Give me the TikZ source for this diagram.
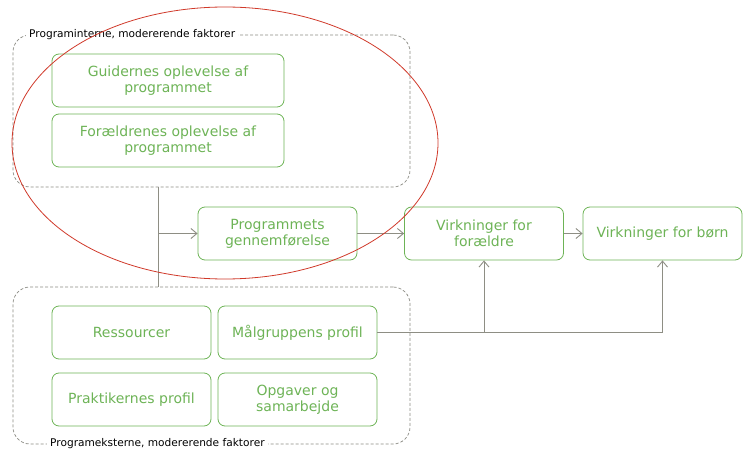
\documentclass[tikz,border=0pt]{standalone}
\usepackage{fontspec}
\setmainfont{DejaVu Sans}
\usetikzlibrary{arrows.meta, positioning}
\definecolor{boxgreen}{HTML}{6DB356}
\definecolor{dashgray}{HTML}{8A8A82}
\definecolor{linegray}{HTML}{8E8E84}
\definecolor{markred}{HTML}{D0392A}
\tikzset{
  factor/.style={
    rectangle, rounded corners=7pt, draw=boxgreen, line width=0.8pt,
    text=boxgreen, font=\fontsize{14}{16}\selectfont,
    minimum width=159pt, minimum height=53pt, align=center, inner sep=2pt
  },
  wide/.style={factor, minimum width=232pt},
  group/.style={
    rectangle, rounded corners=17pt, draw=dashgray, line width=0.7pt,
    dash pattern=on 3pt off 2pt
  },
  grouplbl/.style={fill=white, text=black, font=\fontsize{10.6}{12}\selectfont,
    inner xsep=3pt, inner ysep=2pt, anchor=west},
  arr/.style={-{Straight Barb[length=6pt, width=10pt]}, line width=0.9pt, linegray},
  ln/.style={line width=0.9pt, linegray},
}

\begin{document}
\begin{tikzpicture}[x=1pt, y=-1pt]
\useasboundingbox (0,0) rectangle (749,454);

% --- Groups ---
\node[group, minimum width=397pt, minimum height=152pt] (intern) at (211.5,111) {};
\node[group, minimum width=397pt, minimum height=157pt] (extern) at (211.5,365.5) {};
\node[grouplbl] (internlbl) at (26,35) {Programinterne, modererende faktorer};
\node[grouplbl] (externlbl) at (47,444) {Programeksterne, modererende faktorer};

% --- Internal factors ---
\node[wide] (guider) at (168,80.5) {Guidernes oplevelse af\\programmet};
\node[wide] (foraeldreopl) at (168,140.5) {Forældrenes oplevelse af\\programmet};

% --- External factors ---
\node[factor] (ressourcer) at (131.5,332.5) {Ressourcer};
\node[factor] (maal) at (297.5,332.5) {Målgruppens profil};
\node[factor] (praktiker) at (131.5,399.5) {Praktikernes profil};
\node[factor] (opgaver) at (297.5,399.5) {Opgaver og\\samarbejde};

% --- Chain ---
\node[factor] (gennem) at (277.5,233.5) {Programmets\\gennemførelse};
\node[factor] (foraeldre) at (484,233.5) {Virkninger for\\forældre};
\node[factor] (boern) at (662.5,233.5) {Virkninger for børn};

% --- Connectors ---
\coordinate (trunk) at (158,233.5);
\draw[ln] (trunk |- intern.south) -- (trunk |- extern.north);
\draw[arr] (trunk) -- (gennem.west);
\draw[arr] (gennem) -- (foraeldre);
\draw[arr] (foraeldre) -- (boern);
\draw[arr] (maal.east) -| (boern.south);
\draw[arr] (maal.east -| foraeldre.south) -- (foraeldre.south);

% --- Marking ---
\draw[markred, line width=0.8pt] (225,143) ellipse [x radius=213, y radius=136];

\end{tikzpicture}
\end{document}
